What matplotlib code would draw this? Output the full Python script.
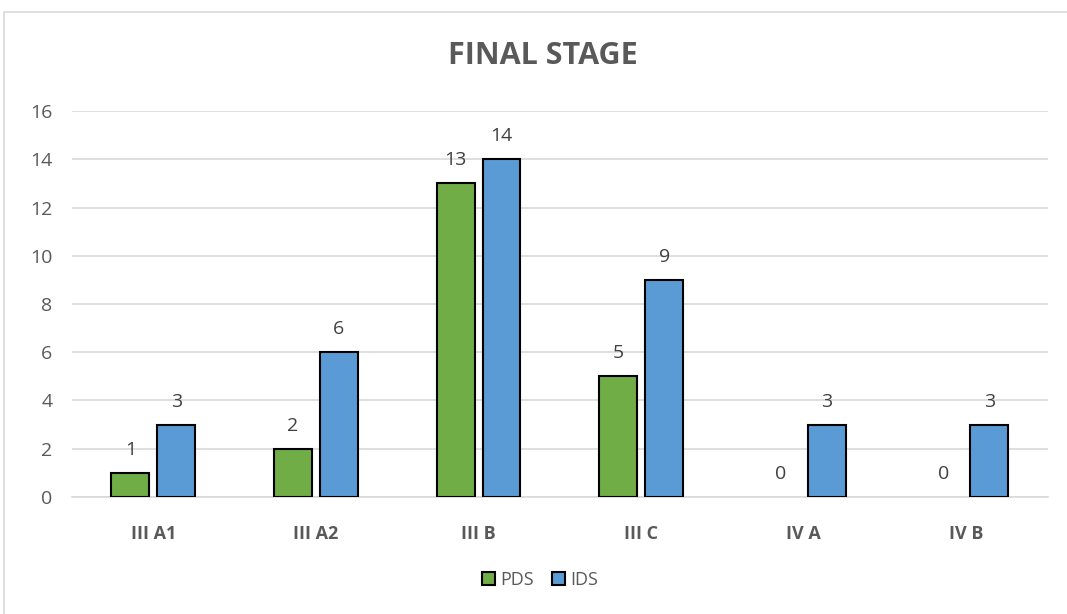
import matplotlib.pyplot as plt
import matplotlib.patches as mpatches
import numpy as np

categories = ["III A1", "III A2", "III B", "III C", "IV A", "IV B"]
pds = [1, 2, 13, 5, 0, 0]
ids = [3, 6, 14, 9, 3, 3]
series_names = ["PDS", "IDS"]
colors = ["#70AD47", "#5B9BD5"]

plt.rcParams['font.family'] = ['Open Sans', 'DejaVu Sans']

fig = plt.figure(figsize=(10.67, 6.14), dpi=100)
ax = fig.add_axes([0.0675, 0.1906, 0.9145, 0.6286])

# chart frame
fig.patches.append(mpatches.Rectangle((4 / 1067, -0.01), 1.02, 1 - 12 / 614 + 0.01,
                                      transform=fig.transFigure, fill=False,
                                      edgecolor="#D9D9D9", linewidth=1.2))

x = np.arange(len(categories))
width = 0.233
offset = 0.141
for vals, off, col in [(pds, -offset, colors[0]), (ids, offset, colors[1])]:
    edge_w = [1.5 if v > 0 else 0 for v in vals]
    bars = ax.bar(x + off, vals, width, color=col, edgecolor="black", linewidth=edge_w, zorder=3)
    for b, v in zip(bars, vals):
        ax.annotate(str(v), (b.get_x() + b.get_width() / 2, v), xytext=(0, 10),
                    textcoords="offset points", ha="center", va="bottom",
                    fontsize=14, color="#404040")

ax.set_xlim(-0.5, len(categories) - 0.5)
ax.set_ylim(0, 16)
ax.set_yticks(range(0, 17, 2))
ax.set_xticks(x)
ax.set_xticklabels(categories, fontweight="bold", fontsize=13, color="#595959")
ax.tick_params(axis="y", labelsize=14, labelcolor="#595959", length=0, pad=14)
ax.tick_params(axis="x", length=0, pad=20)
ax.grid(axis="y", color="#D9D9D9", linewidth=1.2, zorder=0)
for s in ["top", "right", "left"]:
    ax.spines[s].set_visible(False)
ax.spines["bottom"].set_color("#D9D9D9")
ax.spines["bottom"].set_linewidth(1.2)

fig.text(543 / 1067, 1 - 56 / 614, "FINAL STAGE", ha="center", va="center",
         fontsize=22, fontweight="bold", color="#595959")

handles = [mpatches.Patch(facecolor=c, edgecolor="black", linewidth=1.5, label=n)
           for c, n in zip(colors, series_names)]
fig.legend(handles=handles, loc="center", bbox_to_anchor=(540 / 1067, 1 - 580 / 614), ncol=2,
           frameon=False, fontsize=13, handlelength=0.7, handleheight=0.7,
           handletextpad=0.3, columnspacing=1.0, labelcolor="#595959")

fig.savefig("out.png", dpi=100)
